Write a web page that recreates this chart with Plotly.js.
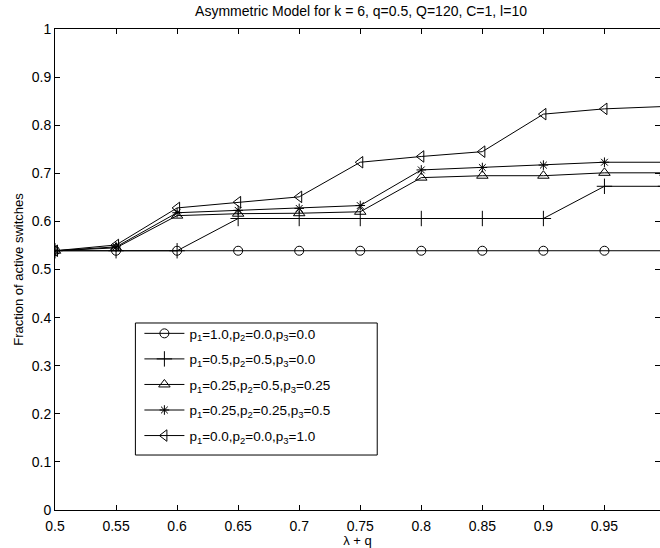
<!DOCTYPE html>
<html>
<head>
<meta charset="utf-8">
<script src="https://cdn.plot.ly/plotly-3.0.1.min.js"></script>
<style>html,body{margin:0;padding:0;background:#fff;}#chart{width:660px;height:548px;}</style>
</head>
<body>
<div id="chart"></div>
<script>
var xValues = [0.5, 0.55, 0.6, 0.65, 0.7, 0.75, 0.8, 0.85, 0.9, 0.95, 1.0];
var seriesA = [0.539, 0.539, 0.539, 0.539, 0.539, 0.539, 0.539, 0.539, 0.539, 0.539, 0.539];
var seriesB = [0.539, 0.539, 0.539, 0.606, 0.606, 0.606, 0.606, 0.606, 0.606, 0.673, 0.673];
var seriesC = [0.539, 0.545, 0.612, 0.616, 0.617, 0.620, 0.691, 0.695, 0.695, 0.701, 0.701];
var seriesD = [0.539, 0.547, 0.618, 0.623, 0.627, 0.633, 0.707, 0.712, 0.717, 0.723, 0.723];
var seriesE = [0.539, 0.551, 0.628, 0.640, 0.651, 0.723, 0.735, 0.745, 0.823, 0.834, 0.839];
var seriesNames = [
  'p<sub>1</sub>=1.0,p<sub>2</sub>=0.0,p<sub>3</sub>=0.0',
  'p<sub>1</sub>=0.5,p<sub>2</sub>=0.5,p<sub>3</sub>=0.0',
  'p<sub>1</sub>=0.25,p<sub>2</sub>=0.5,p<sub>3</sub>=0.25',
  'p<sub>1</sub>=0.25,p<sub>2</sub>=0.25,p<sub>3</sub>=0.5',
  'p<sub>1</sub>=0.0,p<sub>2</sub>=0.0,p<sub>3</sub>=1.0'
];
var xTickVals = [0.5, 0.55, 0.6, 0.65, 0.7, 0.75, 0.8, 0.85, 0.9, 0.95];
var xTickText = ['0.5', '0.55', '0.6', '0.65', '0.7', '0.75', '0.8', '0.85', '0.9', '0.95'];
var yTickVals = [0, 0.1, 0.2, 0.3, 0.4, 0.5, 0.6, 0.7, 0.8, 0.9, 1];
var yTickText = ['0', '0.1', '0.2', '0.3', '0.4', '0.5', '0.6', '0.7', '0.8', '0.9', '1'];

var allSeries = [seriesA, seriesB, seriesC, seriesD, seriesE];
var symbols = ['circle-open', 'cross-thin-open', 'triangle-up-open', 'asterisk-open', 'triangle-left-open'];
var sizes = [9, 11, 10, 8, 10];

var traces = allSeries.map(function (s, i) {
  return {
    x: xValues, y: s, name: seriesNames[i], type: 'scatter', mode: 'lines+markers',
    legendgroup: 'g' + i,
    line: {color: '#000', width: 1},
    marker: {symbol: symbols[i], size: sizes[i], color: '#000', line: {color: '#000', width: 1}}
  };
});

var fontFam = 'Liberation Sans, Arial, Helvetica, sans-serif';
var layout = {
  width: 660, height: 548,
  paper_bgcolor: '#fff', plot_bgcolor: '#fff',
  margin: {l: 54.5, r: 0, t: 29, b: 38, pad: 0},
  font: {family: fontFam, size: 14, color: '#000'},
  title: {text: 'Asymmetric Model for k = 6, q=0.5, Q=120, C=1, l=10', font: {size: 14, family: fontFam, color: '#000'},
          xref: 'container', x: 0.547, xanchor: 'center', yref: 'container', y: 0.98, yanchor: 'middle'},
  xaxis: {
    range: [0.5, 0.9955], tickvals: xTickVals, ticktext: xTickText,
    ticks: 'inside', ticklen: 5, tickcolor: '#000', tickwidth: 1,
    showline: true, linecolor: '#000', linewidth: 1, mirror: 'ticks',
    showgrid: false, zeroline: false, ticklabelstandoff: 3,
    tickfont: {size: 14}, title: {text: 'λ + q', font: {size: 13}, standoff: 0}
  },
  yaxis: {
    range: [0, 1], tickvals: yTickVals, ticktext: yTickText,
    ticks: 'inside', ticklen: 5, tickcolor: '#000', tickwidth: 1,
    showline: true, linecolor: '#000', linewidth: 1, mirror: 'ticks',
    showgrid: false, zeroline: false,
    tickfont: {size: 14}, title: {text: 'Fraction of active switches', font: {size: 13}, standoff: 5}
  },
  legend: {
    x: 0.1395, y: 0.399, xanchor: 'left', yanchor: 'top',
    bgcolor: 'rgba(0,0,0,0)', borderwidth: 0,
    itemwidth: 40, tracegroupgap: 5,
    font: {size: 13.5, family: fontFam}
  },
  shapes: [{type: 'rect', xref: 'paper', yref: 'paper', x0: 0.1329, x1: 0.5326, y0: 0.1143, y1: 0.3888,
            line: {color: '#000', width: 1}, fillcolor: 'rgba(0,0,0,0)', layer: 'below'}],
  showlegend: true
};
Plotly.newPlot('chart', traces, layout, {displayModeBar: false, staticPlot: true});
</script>
</body>
</html>
